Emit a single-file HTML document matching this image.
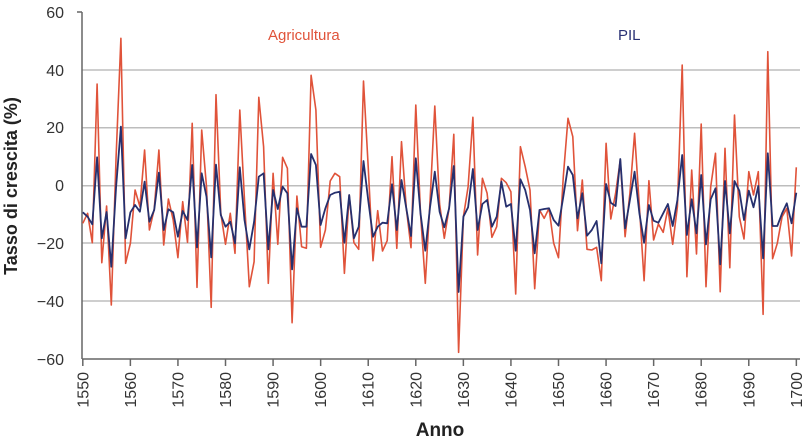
<!DOCTYPE html>
<html><head><meta charset="utf-8"><style>
body{margin:0;background:#fff;}
svg text{font-family:"Liberation Sans",sans-serif;}
</style></head><body>
<svg id="s" width="810" height="442" xmlns="http://www.w3.org/2000/svg">
<g stroke="#bdbdbd" stroke-width="1.5">
<line x1="82" y1="70" x2="800" y2="70"/><line x1="82" y1="127.7" x2="800" y2="127.7"/>
<line x1="82" y1="185.7" x2="800" y2="185.7"/><line x1="82" y1="243" x2="800" y2="243"/>
<line x1="82" y1="301" x2="800" y2="301"/>
</g>
<g stroke="#666" stroke-width="1.5">
<line x1="82" y1="12" x2="82" y2="359"/><line x1="77" y1="12" x2="82" y2="12"/>
<line x1="82" y1="359" x2="800" y2="359"/>
</g>
<g id="ticks" stroke="#666" stroke-width="1.5"></g>
<g font-size="16" fill="#333" text-anchor="end">
<text x="64" y="18">60</text><text x="64" y="76">40</text><text x="64" y="133">20</text>
<text x="64" y="191">0</text><text x="64" y="249">−20</text><text x="64" y="307">−40</text><text x="64" y="365">−60</text>
</g>
<g id="xl" font-size="16" fill="#333"></g>
<text x="17" y="186" font-size="18" font-weight="bold" fill="#222" text-anchor="middle" transform="rotate(-90 17 186)">Tasso di crescita (%)</text>
<text x="440" y="436" font-size="19" font-weight="bold" fill="#222" text-anchor="middle">Anno</text>
<text x="268" y="40" font-size="15" fill="#e0533a">Agricultura</text>
<text x="618" y="40" font-size="15" fill="#2a3275">PIL</text>
<polyline id="o" fill="none" stroke="#e0533a" stroke-width="1.6" stroke-linejoin="round"/>
<polyline id="b" fill="none" stroke="#26306e" stroke-width="1.8" stroke-linejoin="round"/>
</svg>
<script>
var O=[670,640,728,252,788,618,915,470,115,790,730,570,620,450,690,628,450,735,597,660,773,605,727,370,862,390,560,922,284,640,733,640,760,330,600,860,785,292,440,850,520,733,472,505,968,588,740,745,226,330,
742,690,543,520,530,820,585,728,748,243,500,782,632,753,722,470,745,425,625,743,315,640,850,600,318,612,715,625,403,1057,650,560,352,765,535,580,712,680,535,548,575,882,440,500,570,866,630,655,625,730,773,530,
355,410,692,540,748,750,742,842,430,657,580,480,710,580,400,620,842,542,720,672,697,625,733,620,195,830,510,762,372,860,560,460,875,445,803,345,650,717,515,585,515,943,155,776,730,650,625,768,502];
var B=[637,650,673,472,715,636,800,560,380,715,637,615,635,545,665,630,518,690,628,637,710,633,660,495,742,520,590,772,494,645,680,665,730,502,660,748,665,530,520,748,570,627,560,580,808,625,680,680,462,495,
675,625,585,578,575,728,585,715,680,483,600,710,680,668,670,553,690,540,625,708,475,640,752,620,515,635,682,625,498,876,650,622,507,690,612,600,680,650,545,620,612,752,538,570,630,760,630,627,625,660,677,590,
500,525,655,580,707,690,663,790,552,608,618,477,685,600,515,640,728,615,662,668,640,612,678,600,465,705,598,700,525,733,598,565,793,543,700,543,572,660,572,622,558,775,460,678,678,640,610,670,578];
function X(i){return 82.8+i*4.757;}
function pts(a){return a.map(function(v,i){return X(i).toFixed(1)+","+(v/3).toFixed(1)}).join(" ");}
document.getElementById("o").setAttribute("points",pts(O));
document.getElementById("b").setAttribute("points",pts(B));
var t="",l="";
for(var k=0;k<=15;k++){var x=X(k*10);t+='<line x1="'+x+'" y1="359" x2="'+x+'" y2="366"/>';
l+='<text x="'+(x+5.5)+'" y="372" text-anchor="end" transform="rotate(-90 '+(x+5.5)+' 372)">'+(1550+k*10)+'</text>';}
document.getElementById("ticks").innerHTML=t;document.getElementById("xl").innerHTML=l;
</script>
</body></html>
